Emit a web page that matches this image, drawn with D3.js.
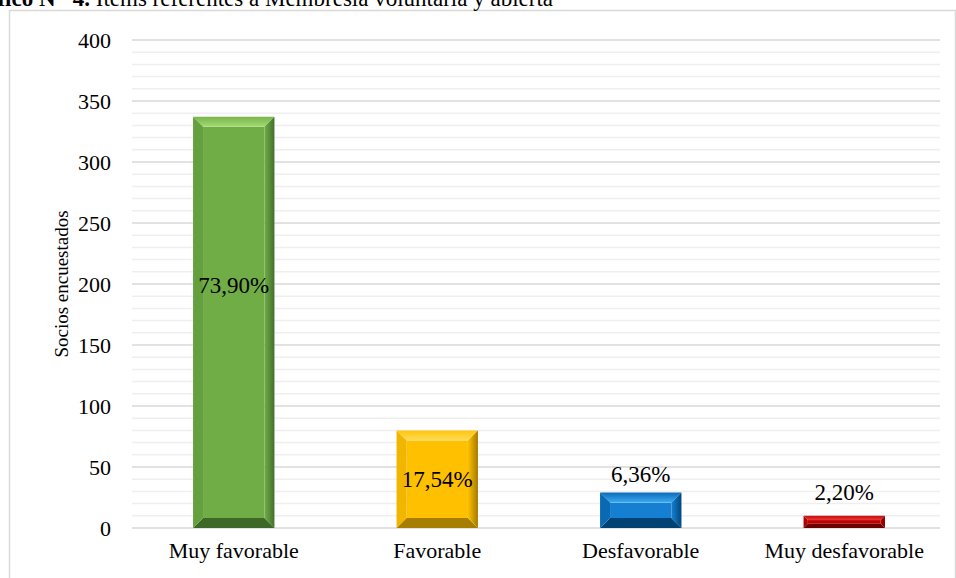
<!DOCTYPE html>
<html>
<head>
<meta charset="utf-8">
<script src="https://cdn.jsdelivr.net/npm/d3@7"></script>
<style>
  html, body { margin: 0; padding: 0; background: #fff; }
  svg { display: block; font-family: "Liberation Serif", "Times New Roman", serif; }
</style>
</head>
<body>
<svg id="chart" width="956" height="578"></svg>
<script>
// Survey results: members' answers on voluntary and open membership
const categories = ["Muy favorable", "Favorable", "Desfavorable", "Muy desfavorable"];
const values = [337, 80, 29, 10];
const percentLabels = ["73,90%", "17,54%", "6,36%", "2,20%"];
const yTicks = [0, 50, 100, 150, 200, 250, 300, 350, 400];
const minorTicks = d3.range(0, 401, 10);

// Bevel palettes per bar: face, top (outer/inner), left, right, bottom
const palettes = [
  { face: "#70ad47", topOut: "#78b54c", topIn: "#a2dc72", left: "#65a03f", right: "#436f2c", bottom: "#3e6828" },
  { face: "#ffc000", topOut: "#ffc40a", topIn: "#ffdc5a", left: "#f2b500", right: "#a37a00", bottom: "#a87e00" },
  { face: "#1580d2", topOut: "#0b6cb8", topIn: "#3eaaf5", left: "#0a69b3", right: "#00467d", bottom: "#004273" },
  { face: "#c00000", topOut: "#c80808", topIn: "#e83a3a", left: "#b00000", right: "#6e0000", bottom: "#6a0000" }
];

const svg = d3.select("#chart");
const defs = svg.append("defs");
palettes.forEach((p, i) => {
  const gr = defs.append("linearGradient").attr("id", "top" + i)
    .attr("x1", 0).attr("y1", 0).attr("x2", 0).attr("y2", 1);
  gr.append("stop").attr("offset", "0%").attr("stop-color", p.topOut);
  gr.append("stop").attr("offset", "100%").attr("stop-color", p.topIn);
  const gl = defs.append("linearGradient").attr("id", "right" + i)
    .attr("x1", 0).attr("y1", 0).attr("x2", 1).attr("y2", 0);
  gl.append("stop").attr("offset", "0%").attr("stop-color", p.face);
  gl.append("stop").attr("offset", "100%").attr("stop-color", p.right);
});

// Outer chart frame
svg.append("rect")
  .attr("x", 9.5).attr("y", 10.5)
  .attr("width", 946).attr("height", 600)
  .attr("fill", "#fff").attr("stroke", "#d9d9d9").attr("stroke-width", 1.5);

// Caption above the frame
const title = svg.append("text")
  .attr("x", 553).attr("y", 6)
  .attr("text-anchor", "end")
  .attr("font-size", 23).attr("fill", "#000");
title.append("tspan").attr("font-weight", "bold").text("Gráfico N°");
title.append("tspan").attr("font-weight", "bold").attr("dx", 8).text("4.");
title.append("tspan").text(" Ítems referentes a Membresía voluntaria y abierta");

const x = d3.scaleBand().domain(categories)
  .range([132, 946]).paddingInner(0.6).paddingOuter(0.3);
const y = d3.scaleLinear().domain([0, 400]).range([528, 40]);
const gridX0 = 132, gridX1 = 940;

// Minor gridlines
svg.append("g").selectAll("line").data(minorTicks.filter(d => d % 50 !== 0)).join("line")
  .attr("x1", gridX0).attr("x2", gridX1)
  .attr("y1", d => y(d)).attr("y2", d => y(d))
  .attr("stroke", "#efefef").attr("stroke-width", 1.5);

// Major gridlines
svg.append("g").selectAll("line").data(yTicks).join("line")
  .attr("x1", gridX0).attr("x2", gridX1)
  .attr("y1", d => y(d)).attr("y2", d => y(d))
  .attr("stroke", "#d9d9d9").attr("stroke-width", 1.5);

// Y axis labels
const yAxis = d3.axisLeft(y).tickValues(yTicks).tickSize(0).tickPadding(0).tickFormat(d3.format("d"));
const yg = svg.append("g").attr("transform", "translate(111,0)").call(yAxis);
yg.select(".domain").remove();
yg.selectAll("text").attr("font-size", 22).attr("fill", "#000")
  .attr("font-family", "Liberation Serif, serif");

// X axis labels
const xAxis = d3.axisBottom(x).tickSize(0).tickPadding(0);
const xg = svg.append("g").attr("transform", "translate(0,542)").call(xAxis);
xg.select(".domain").remove();
xg.selectAll("text").attr("font-size", 22).attr("fill", "#000")
  .attr("font-family", "Liberation Serif, serif");

// Y axis title
svg.append("text")
  .attr("transform", "translate(68,284) rotate(-90)")
  .attr("text-anchor", "middle")
  .attr("font-size", 19).attr("fill", "#000")
  .text("Socios encuestados");

// Bevelled bars
const bars = svg.append("g");
categories.forEach((c, i) => {
  const x0 = x(c), x1 = x(c) + x.bandwidth();
  const y0 = y(values[i]), y1 = y(0);
  const h = y1 - y0;
  const b = Math.min(10, h * 0.35);
  const p = palettes[i];
  const g = bars.append("g");
  const poly = (pts, fill) => g.append("polygon")
    .attr("points", pts.map(q => q.join(",")).join(" ")).attr("fill", fill);
  g.append("rect").attr("x", x0 + b).attr("y", y0 + b)
    .attr("width", x1 - x0 - 2 * b).attr("height", Math.max(0, h - 2 * b)).attr("fill", p.face);
  poly([[x0, y0], [x1, y0], [x1 - b, y0 + b], [x0 + b, y0 + b]], `url(#top${i})`);
  poly([[x0, y1], [x1, y1], [x1 - b, y1 - b], [x0 + b, y1 - b]], p.bottom);
  poly([[x0, y0], [x0 + b, y0 + b], [x0 + b, y1 - b], [x0, y1]], p.left);
  poly([[x1, y0], [x1 - b, y0 + b], [x1 - b, y1 - b], [x1, y1]], `url(#right${i})`);
});

// Percentage labels
const labelY = [
  y(values[0] * 0.59),
  (y(values[1]) + y(0)) / 2,
  y(values[2]) - 19,
  y(values[3]) - 24
];
svg.append("g").selectAll("text").data(percentLabels).join("text")
  .attr("x", (d, i) => x(categories[i]) + x.bandwidth() / 2)
  .attr("y", (d, i) => labelY[i])
  .attr("dy", "0.35em")
  .attr("text-anchor", "middle")
  .attr("font-size", 23).attr("fill", "#000")
  .text(d => d);
</script>
</body>
</html>
